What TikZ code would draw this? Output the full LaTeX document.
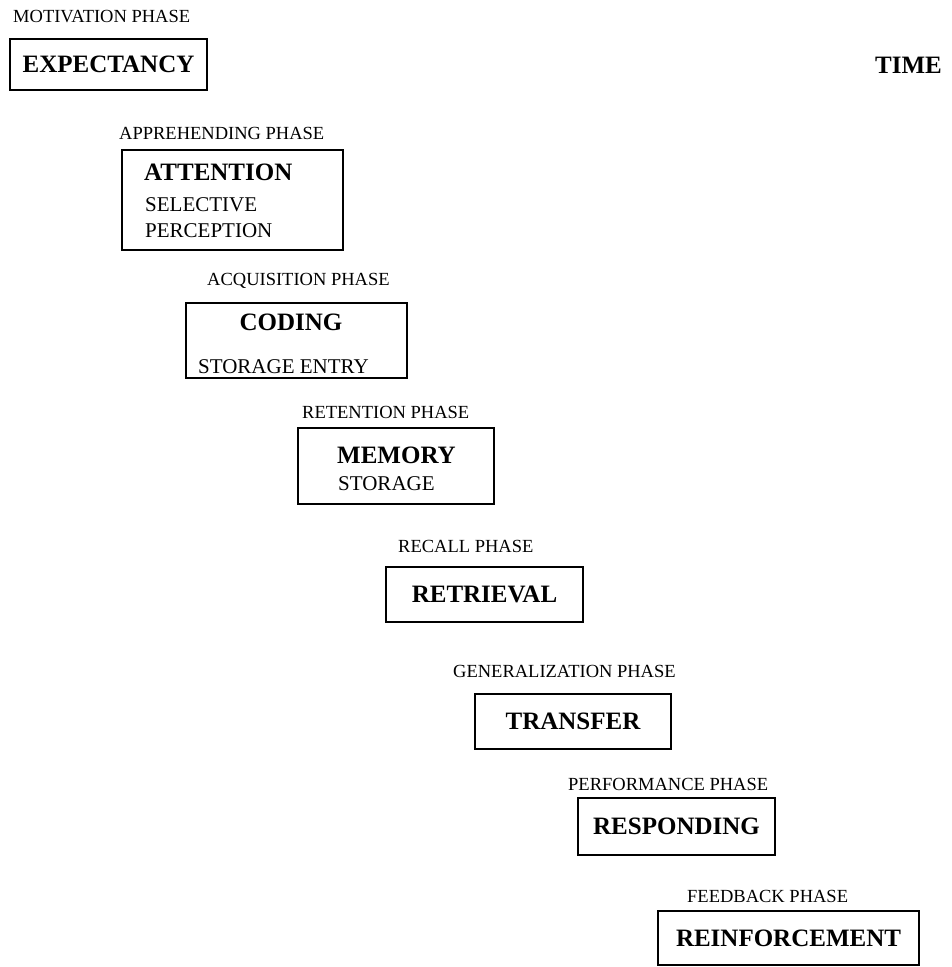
\documentclass[tikz,border=0pt]{standalone}
\usepackage{fontspec}
\setmainfont{Liberation Serif}
\begin{document}
\begin{tikzpicture}[x=1pt, y=-1pt,
		box/.style={draw, line width=2pt, inner sep=0pt, font=\fontsize{25}{28}\selectfont\bfseries},
		phase/.style={anchor=base west, inner sep=0pt, font=\fontsize{18.5}{21}\selectfont},
		title/.style={anchor=base west, inner sep=0pt, font=\fontsize{25}{28}\selectfont\bfseries},
		body/.style={anchor=base west, inner sep=0pt, font=\fontsize{21}{24}\selectfont}]
				\useasboundingbox (0,0) rectangle (952,967);
				
				%phase labels
				\foreach \n/\x/\y/\t in {motiv/13/22/MOTIVATION PHASE, appr/119/139/APPREHENDING PHASE,
					acqu/207/285/ACQUISITION PHASE, reten/302/418/RETENTION PHASE, recall/398/552/RECALL PHASE,
					gener/453/677/GENERALIZATION PHASE, perf/568/790/PERFORMANCE PHASE, feed/687/902/FEEDBACK PHASE}{
					\node[phase] (\n) at (\x, \y){\t};
				}
				\node[title] (time) at (875, 73){TIME};
				
				%boxes
				\node[box, minimum width=197, minimum height=51] (expect) at (108.5, 64.5){EXPECTANCY};
				\node[box, minimum width=221, minimum height=100] (atten) at (232.5, 200){};
				\node[box, minimum width=221, minimum height=75] (coding) at (296.5, 340.5){};
				\node[box, minimum width=196, minimum height=76] (memory) at (396, 466){};
				\node[box, minimum width=197, minimum height=55] (retriev) at (484.5, 594.5){RETRIEVAL};
				\node[box, minimum width=196, minimum height=55] (transf) at (573, 721.5){TRANSFER};
				\node[box, minimum width=197, minimum height=57] (respond) at (676.5, 826.5){RESPONDING};
				\node[box, minimum width=261, minimum height=54] (reinf) at (788.5, 938){REINFORCEMENT};
				
				%texts in boxes
				\node[title] (attent) at (144, 180){ATTENTION};
				\node[body] (select) at (145, 211){SELECTIVE};
				\node[body] (percep) at (145, 237){PERCEPTION};
				\node[title, anchor=base] (codingt) at (291, 330){CODING};
				\node[body] (entry) at (198, 373){STORAGE ENTRY};
				\node[title] (memoryt) at (337, 463){MEMORY};
				\node[body] (storage) at (338, 490){STORAGE};
			\end{tikzpicture}
\end{document}
